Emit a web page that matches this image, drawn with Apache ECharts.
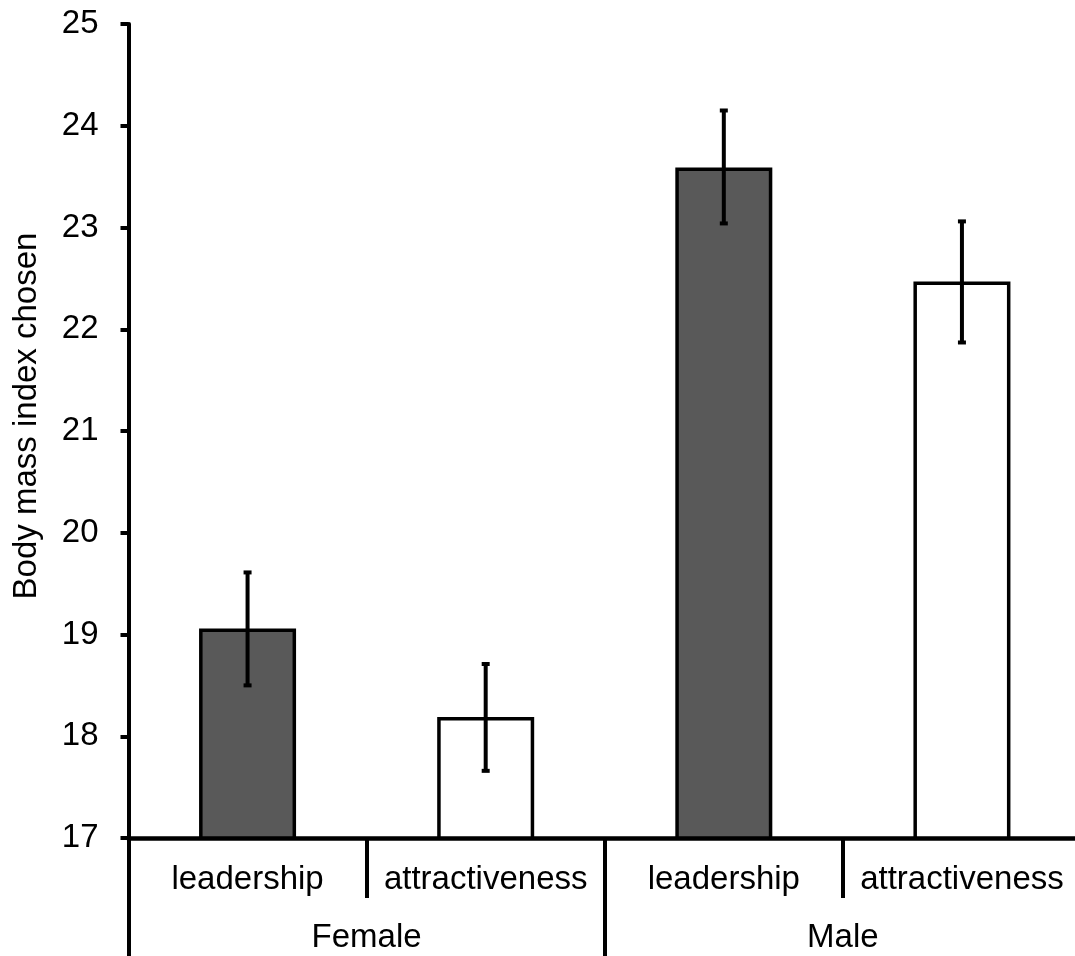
<!DOCTYPE html>
<html><head><meta charset="utf-8">
<script src="https://cdn.jsdelivr.net/npm/echarts@6/dist/echarts.min.js"></script>
<style>html,body{margin:0;padding:0;background:#fff}#c{width:1075px;height:956px}</style>
</head><body><div id="c"></div>
<script>
const subCategories = ['leadership', 'attractiveness', 'leadership', 'attractiveness'];
const groups = ['Female', 'Male'];
const bmiMeans = [19.06, 18.19, 23.59, 22.47];
const errLow = [18.50, 17.66, 23.04, 21.87];
const errHigh = [19.61, 18.71, 24.15, 23.06];
const yMin = 17, yMax = 25, yStep = 1;

const FONT = '"Liberation Sans", Arial, sans-serif';
const chart = echarts.init(document.getElementById('c'), null, {renderer: 'canvas'});

chart.setOption({
  animation: false,
  backgroundColor: '#fff',
  grid: {left: 128.5, right: -6, top: 24, bottom: 118, containLabel: false, outerBoundsMode: 'none'},
  xAxis: [
    {
      type: 'category', data: subCategories, position: 'bottom',
      axisLine: {show: true, lineStyle: {color: '#000', width: 4.5}},
      axisTick: {show: true, length: 60, interval: 0, lineStyle: {color: '#000', width: 4}},
      axisLabel: {interval: 0, margin: 25, color: '#000', fontSize: 33, fontFamily: FONT},
      splitLine: {show: false}
    },
    {
      type: 'category', data: groups, position: 'bottom',
      axisLine: {show: false},
      axisTick: {show: true, length: 118, interval: 0, lineStyle: {color: '#000', width: 4}},
      axisLabel: {interval: 0, margin: 83, color: '#000', fontSize: 33, fontFamily: FONT},
      splitLine: {show: false}
    }
  ],
  yAxis: {
    type: 'value', min: yMin, max: yMax, interval: yStep,
    name: 'Body mass index chosen', nameLocation: 'middle', nameGap: 85,
    nameTextStyle: {color: '#000', fontSize: 33, fontFamily: FONT, padding: [0, 0, 0, 30]},
    axisLine: {show: true, lineStyle: {color: '#000', width: 4}},
    axisTick: {show: true, length: 8, lineStyle: {color: '#000', width: 4}},
    axisLabel: {margin: 30, color: '#000', fontSize: 33, fontFamily: FONT},
    splitLine: {show: false}
  },
  series: [
    {
      type: 'bar', xAxisIndex: 0, data: bmiMeans, barWidth: 97,
      itemStyle: {
        color: (p) => (p.dataIndex % 2 === 0 ? '#595959' : '#ffffff'),
        borderColor: '#000', borderWidth: 3.5
      }
    },
    {
      type: 'custom', xAxisIndex: 0, z: 10,
      data: subCategories.map((c, i) => [i, errLow[i], errHigh[i]]),
      renderItem: (params, api) => {
        const lo = api.coord([api.value(0), api.value(1)]);
        const hi = api.coord([api.value(0), api.value(2)]);
        const hw = 4;
        const st = {stroke: '#000', lineWidth: 4};
        return {
          type: 'group',
          children: [
            {type: 'line', shape: {x1: lo[0], y1: lo[1], x2: hi[0], y2: hi[1]}, style: st},
            {type: 'line', shape: {x1: lo[0] - hw, y1: lo[1], x2: lo[0] + hw, y2: lo[1]}, style: st},
            {type: 'line', shape: {x1: hi[0] - hw, y1: hi[1], x2: hi[0] + hw, y2: hi[1]}, style: st}
          ]
        };
      }
    }
  ]
});
</script>
</body></html>
